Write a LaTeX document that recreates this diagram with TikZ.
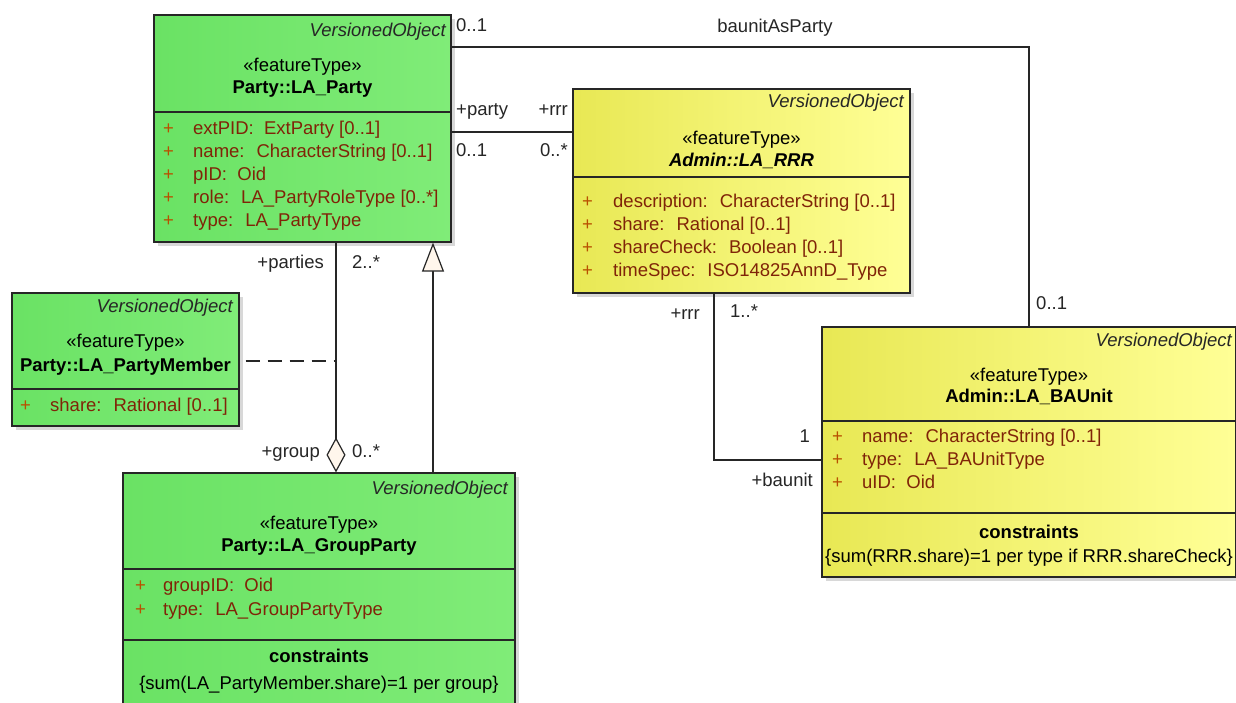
\documentclass[tikz,border=0pt]{standalone}
\usepackage{fontspec}
\setmainfont{Liberation Sans}
\usetikzlibrary{arrows.meta,shadows}

\definecolor{partygreen}{RGB}{128,236,120}
\definecolor{partygreendark}{RGB}{106,226,100}
\definecolor{adminyellow}{RGB}{255,255,150}
\definecolor{adminyellowdark}{RGB}{232,232,84}
\definecolor{attrred}{RGB}{128,36,8}
\definecolor{plusred}{RGB}{185,80,0}
\definecolor{tipfill}{RGB}{255,246,236}

\newcommand{\umlsize}{\fontsize{18.5}{23}\selectfont}

\tikzset{
  classbox/.style={draw=black!85, line width=1.2pt, inner sep=0pt,
    drop shadow={shadow xshift=4pt, shadow yshift=-4pt, fill=black!30}},
  partybox/.style={classbox, left color=partygreendark, right color=partygreen},
  adminbox/.style={classbox, left color=adminyellowdark, right color=adminyellow},
  sep/.style={draw=black!85, line width=1.2pt},
  txt/.style={font=\umlsize, inner sep=0pt, text height=13pt, text depth=4pt},
  tag/.style={txt, font=\umlsize\itshape, anchor=east, text=black!85},
  cname/.style={txt, font=\umlsize\bfseries},
  attr/.style={txt, anchor=west, text=attrred},
  plus/.style={txt, anchor=west, text=plusred},
  lbl/.style={txt, text=black!85},
  assoc/.style={draw=black!85, line width=1.2pt}
}

\begin{document}
\begin{tikzpicture}[x=1pt,y=-1pt]
  \fill[white] (0,0) rectangle (1236,702);
  \useasboundingbox (0,0) rectangle (1236,702);

  % classes
  \node[partybox, minimum width=297pt, minimum height=227pt] (party) at (302.5,128.5) {};
  \node[adminbox, minimum width=337pt, minimum height=204pt] (rrr) at (741.5,191) {};
  \node[partybox, minimum width=227pt, minimum height=133pt] (member) at (125.5,359.5) {};
  \node[partybox, minimum width=392pt, minimum height=250pt] (group) at (319,598) {};
  \node[adminbox, minimum width=414pt, minimum height=250pt] (baunit) at (1029,452) {};

  \foreach \c/\y in {party/112, rrr/177, member/389, group/569, group/640, baunit/421, baunit/513}
    \draw[sep] (\c.west |- 0,\y) -- (\c.east |- 0,\y);

  % LA_Party
  \node[tag] (party-tag) at (446,32) {VersionedObject};
  \node[txt] (party-st) at (302.5,67) {«featureType»};
  \node[cname] (party-nm) at (302.5,89) {Party::LA\_Party};
  \foreach \att [count=\i] in {extPID:~ ExtParty [0..1], name:~ CharacterString [0..1],
      pID:~ Oid, role:~ LA\_PartyRoleType [0..*], type:~ LA\_PartyType}
  {
    \node[plus] (party-p\i) at (163,107+23*\i) {+};
    \node[attr] (party-a\i) at (193,107+23*\i) {\att};
  }

  % LA_RRR
  \node[tag] (rrr-tag) at (904,103) {VersionedObject};
  \node[txt] (rrr-st) at (741.5,140) {«featureType»};
  \node[cname, font=\umlsize\bfseries\itshape] (rrr-nm) at (741.5,162) {Admin::LA\_RRR};
  \foreach \att [count=\i] in {description:~ CharacterString [0..1], share:~ Rational [0..1],
      shareCheck:~ Boolean [0..1], timeSpec:~ ISO14825AnnD\_Type}
  {
    \node[plus] (rrr-p\i) at (582,180+23*\i) {+};
    \node[attr] (rrr-a\i) at (613,180+23*\i) {\att};
  }

  % LA_PartyMember
  \node[tag] (member-tag) at (233,308) {VersionedObject};
  \node[txt] (member-st) at (125.5,343) {«featureType»};
  \node[cname] (member-nm) at (125.5,367) {Party::LA\_PartyMember};
  \node[plus] (member-p1) at (20,407) {+};
  \node[attr] (member-a1) at (50,407) {share:~ Rational [0..1]};

  % LA_GroupParty
  \node[tag] (group-tag) at (508,490) {VersionedObject};
  \node[txt] (group-st) at (319,525) {«featureType»};
  \node[cname] (group-nm) at (319,547) {Party::LA\_GroupParty};
  \foreach \att [count=\i] in {groupID:~ Oid, type:~ LA\_GroupPartyType}
  {
    \node[plus] (group-p\i) at (135,563+24*\i) {+};
    \node[attr] (group-a\i) at (163,563+24*\i) {\att};
  }
  \node[cname] (group-ck) at (319,658) {constraints};
  \node[txt] (group-cs) at (319,685) {\{sum(LA\_PartyMember.share)=1 per group\}};

  % LA_BAUnit
  \node[tag] (baunit-tag) at (1232,342) {VersionedObject};
  \node[txt] (baunit-st) at (1029,377) {«featureType»};
  \node[cname] (baunit-nm) at (1029,398) {Admin::LA\_BAUnit};
  \foreach \att [count=\i] in {name:~ CharacterString [0..1], type:~ LA\_BAUnitType, uID:~ Oid}
  {
    \node[plus] (baunit-p\i) at (832,415+23*\i) {+};
    \node[attr] (baunit-a\i) at (862,415+23*\i) {\att};
  }
  \node[cname] (baunit-ck) at (1029,534) {constraints};
  \node[txt] (baunit-cs) at (1029,558) {\{sum(RRR.share)=1 per type if RRR.shareCheck\}};

  % associations
  \draw[assoc] (party.east |- 0,47) -| (baunit.north);
  \draw[assoc] (party.east |- 0,132) -- (rrr.west |- 0,132);
  \draw[assoc] (rrr.south -| 714,0) |- (baunit.west |- 0,460);
  \draw[assoc, {Diamond[length=35pt, width=19pt, fill=tipfill]}-] (group.north -| 336,0) -- (party.south -| 336,0);
  \coordinate (amid) at (336,361);
  \draw[assoc, dash pattern=on 14pt off 8pt, shorten <=6pt] (member.east |- amid) -- (amid);
  \draw[assoc, -{Triangle[length=29pt, width=22pt, fill=tipfill]}] (group.north -| 433,0) -- (party.south -| 433,0);

  % role names and multiplicities
  \node[lbl, anchor=west] (bp-m1) at (456,27) {0..1};
  \node[lbl] (bp-role) at (775,28) {baunitAsParty};
  \node[lbl, anchor=west] (bp-m2) at (1036,305) {0..1};
  \node[lbl, anchor=west] (pr-r1) at (456,111) {+party};
  \node[lbl, anchor=west] (pr-m1) at (456,152) {0..1};
  \node[lbl, anchor=east] (pr-r2) at (568,111) {+rrr};
  \node[lbl, anchor=east] (pr-m2) at (568,152) {0..*};
  \node[lbl, anchor=east] (rb-r1) at (700,315) {+rrr};
  \node[lbl, anchor=west] (rb-m1) at (730,313) {1..*};
  \node[lbl, anchor=east] (rb-m2) at (810,438) {1};
  \node[lbl, anchor=east] (rb-r2) at (813,482) {+baunit};
  \node[lbl, anchor=east] (gp-r1) at (324,264) {+parties};
  \node[lbl, anchor=west] (gp-m1) at (352,264) {2..*};
  \node[lbl, anchor=east] (gp-r2) at (320,453) {+group};
  \node[lbl, anchor=west] (gp-m2) at (352,453) {0..*};
\end{tikzpicture}
\end{document}
